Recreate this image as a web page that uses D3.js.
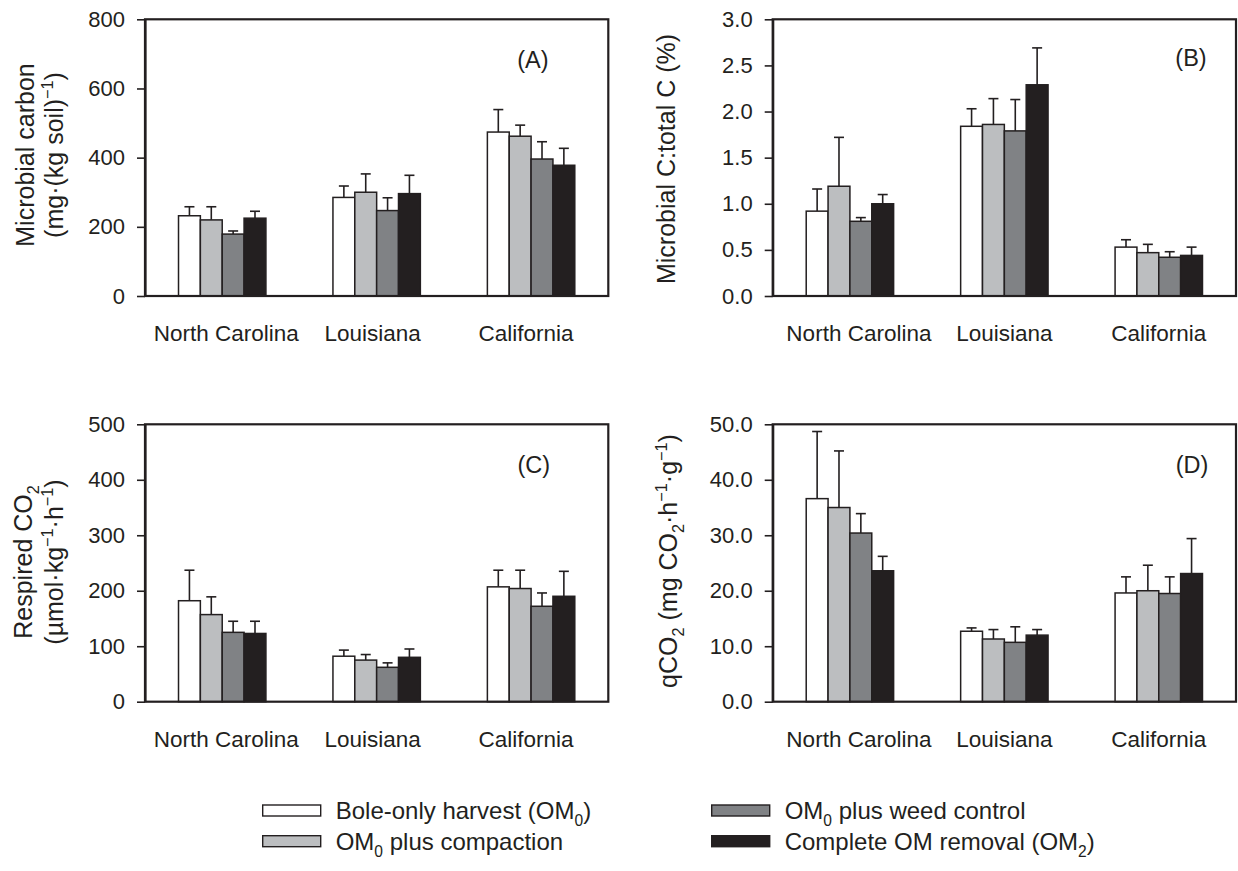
<!DOCTYPE html>
<html><head><meta charset="utf-8">
<script src="https://cdn.jsdelivr.net/npm/d3@7"></script>
<style>
body{margin:0;background:#fff}
svg text{font-family:"Liberation Sans",Arial,Helvetica,sans-serif;fill:#231f20}
</style>
</head><body>
<svg id="chart" width="1238" height="871"></svg>
<script>
// ---------------- data ----------------
const categories = ["North Carolina", "Louisiana", "California"];
const treatments = ["Bole-only harvest (OM0)", "OM0 plus compaction", "OM0 plus weed control", "Complete OM removal (OM2)"];
const treatmentColors = ["#ffffff", "#bcbec0", "#808285", "#231f20"];

// (A) Microbial carbon, mg/(kg soil): rows = sites, cols = treatments
const carbonMean = [[232, 220, 179, 225], [285, 300, 247, 296], [474, 462, 396, 378]];
const carbonSE   = [[26, 38, 9, 20], [33, 53, 37, 53], [65, 32, 50, 49]];
const carbonTicks = [0, 200, 400, 600, 800];

// (B) Microbial C : total C (%)
const ratioMean = [[0.92, 1.19, 0.81, 1.00], [1.84, 1.86, 1.79, 2.29], [0.53, 0.47, 0.42, 0.44]];
const ratioSE   = [[0.24, 0.53, 0.04, 0.10], [0.19, 0.28, 0.34, 0.40], [0.08, 0.09, 0.06, 0.09]];
const ratioTicks = [0, 0.5, 1.0, 1.5, 2.0, 2.5, 3.0];

// (C) Respired CO2, umol/kg/h
const respMean = [[182, 157, 125, 123], [82, 75, 62, 80], [207, 204, 172, 190]];
const respSE   = [[55, 32, 20, 22], [11, 10, 8, 15], [30, 33, 24, 45]];
const respTicks = [0, 100, 200, 300, 400, 500];

// (D) qCO2, mg CO2/h/g
const qco2Mean = [[36.6, 35.0, 30.4, 23.6], [12.7, 11.3, 10.7, 12.0], [19.6, 20.0, 19.5, 23.1]];
const qco2SE   = [[12.1, 10.2, 3.5, 2.6], [0.6, 1.7, 2.8, 1.0], [2.9, 4.6, 3.0, 6.3]];
const qco2Ticks = [0, 10, 20, 30, 40, 50];

// ---------------- drawing ----------------
const INK = "#231f20";
const svg = d3.select("#chart");

function richText(textSel, parts, fs) {
  let cur = 0;
  parts.forEach(p => {
    const shift = p.sub ? 0.28 * fs : (p.sup ? -0.42 * fs : 0);
    textSel.append("tspan")
      .attr("dy", shift - cur)
      .attr("font-size", (p.sub || p.sup) ? fs * 0.65 : fs)
      .text(p.t);
    cur = shift;
  });
}

function drawPanel(cfg) {
  const w = cfg.right - cfg.left, h = cfg.bottom - cfg.top;
  const g = svg.append("g").attr("transform", `translate(${cfg.left},${cfg.top})`);
  const x0 = d3.scaleBand().domain(categories).range([0, w]).paddingInner(0.434).paddingOuter(0.217);
  const x1 = d3.scaleBand().domain(d3.range(treatments.length)).range([0, x0.bandwidth()]);
  const y = d3.scaleLinear().domain([cfg.ticks[0], cfg.ticks[cfg.ticks.length - 1]]).range([h, 0]);

  const rows = [];
  categories.forEach((c, i) => treatments.forEach((t, j) => rows.push({c, j, v: cfg.mean[i][j], se: cfg.se[i][j]})));

  // error bars (drawn before bars so bar tops cover stem base)
  const eb = g.append("g").attr("stroke", INK).attr("stroke-width", 1.6);
  rows.forEach(d => {
    const cx = x0(d.c) + x1(d.j) + x1.bandwidth() / 2;
    eb.append("line").attr("x1", cx).attr("x2", cx).attr("y1", y(d.v)).attr("y2", y(d.v + d.se));
    eb.append("line").attr("x1", cx - 5).attr("x2", cx + 5).attr("y1", y(d.v + d.se)).attr("y2", y(d.v + d.se));
  });

  g.append("g").selectAll("rect").data(rows).join("rect")
    .attr("x", d => x0(d.c) + x1(d.j))
    .attr("width", x1.bandwidth())
    .attr("y", d => y(d.v))
    .attr("height", d => h - y(d.v))
    .attr("fill", d => treatmentColors[d.j])
    .attr("stroke", INK).attr("stroke-width", 1.5);

  // frame
  g.append("rect").attr("x", 0).attr("y", 0).attr("width", w).attr("height", h)
    .attr("fill", "none").attr("stroke", INK).attr("stroke-width", 2.2);

  // y axis
  const ax = g.append("g").call(d3.axisLeft(y).tickValues(cfg.ticks).tickFormat(cfg.fmt)
      .tickSize(8).tickSizeOuter(0).tickPadding(12));
  ax.select(".domain").attr("stroke", INK).attr("stroke-width", 2.2);
  ax.selectAll(".tick line").attr("stroke", INK).attr("stroke-width", 1.6);
  ax.selectAll(".tick text").attr("font-size", 22).attr("fill", INK)
    .attr("font-family", '"Liberation Sans",Arial,sans-serif');

  // category labels
  g.append("g").selectAll("text").data(categories).join("text")
    .attr("x", (d, i) => x0(d) + x0.bandwidth() / 2 + cfg.labelDx[i])
    .attr("y", h + 45.5)
    .attr("text-anchor", "middle")
    .attr("font-size", 22.5)
    .text(d => d);

  // panel letter
  g.append("text").attr("x", w - cfg.letterDx).attr("y", cfg.letterY)
    .attr("text-anchor", "middle").attr("dominant-baseline", "central")
    .attr("font-size", 23.5).text(cfg.letter);

  // y title
  cfg.title.forEach((line, k) => {
    const t = svg.append("text")
      .attr("transform", `translate(${cfg.titleX[k]},${cfg.titleY}) rotate(-90)`)
      .attr("text-anchor", "middle");
    richText(t, line, 25);
  });
}

const fmtInt = d3.format("d");
const fmt1 = d3.format(".1f");

drawPanel({
  left: 145, right: 608.3, top: 19.3, bottom: 296,
  mean: carbonMean, se: carbonSE, ticks: carbonTicks, fmt: fmtInt,
  labelDx: [4, -4, -5], letter: "(A)", letterDx: 75.5, letterY: 41,
  title: [[{t: "Microbial carbon"}], [{t: "(mg·(kg soil)"}, {t: "−1", sup: true}, {t: ")"}]],
  titleX: [34, 63], titleY: 155
});
drawPanel({
  left: 772.7, right: 1236, top: 19.3, bottom: 296,
  mean: ratioMean, se: ratioSE, ticks: ratioTicks, fmt: fmt1,
  labelDx: [9, 0, 0], letter: "(B)", letterDx: 45, letterY: 39,
  title: [[{t: "Microbial C:total C (%)"}]],
  titleX: [675], titleY: 159
});
drawPanel({
  left: 145, right: 608.3, top: 424.3, bottom: 701.7,
  mean: respMean, se: respSE, ticks: respTicks, fmt: fmtInt,
  labelDx: [4, -4, -5], letter: "(C)", letterDx: 74.5, letterY: 40.7,
  title: [[{t: "Respired CO"}, {t: "2", sub: true}],
          [{t: "(µmol·kg"}, {t: "−1", sup: true}, {t: "·h"}, {t: "−1", sup: true}, {t: ")"}]],
  titleX: [32, 63], titleY: 562
});
drawPanel({
  left: 772.7, right: 1236, top: 424.3, bottom: 701.7,
  mean: qco2Mean, se: qco2SE, ticks: qco2Ticks, fmt: fmt1,
  labelDx: [9, 0, 0], letter: "(D)", letterDx: 44, letterY: 41,
  title: [[{t: "qCO"}, {t: "2", sub: true}, {t: " (mg CO"}, {t: "2", sub: true}, {t: "·h"}, {t: "−1", sup: true},
           {t: "·g"}, {t: "−1", sup: true}, {t: ")"}]],
  titleX: [677], titleY: 561
});

// ---------------- legend ----------------
const legendParts = [
  [{t: "Bole-only harvest (OM"}, {t: "0", sub: true}, {t: ")"}],
  [{t: "OM"}, {t: "0", sub: true}, {t: " plus compaction"}],
  [{t: "OM"}, {t: "0", sub: true}, {t: " plus weed control"}],
  [{t: "Complete OM removal (OM"}, {t: "2", sub: true}, {t: ")"}]
];
const legendCol = [262.7, 262.7, 711.7, 711.7];
const legendRow = [805, 835.7, 805, 835.7];
const lg = svg.append("g");
treatments.forEach((t, j) => {
  lg.append("rect").attr("x", legendCol[j]).attr("y", legendRow[j]).attr("width", 58).attr("height", 11)
    .attr("fill", treatmentColors[j]).attr("stroke", INK).attr("stroke-width", 1.4);
  const tx = lg.append("text").attr("x", legendCol[j] + 73).attr("y", legendRow[j] + 14.2);
  richText(tx, legendParts[j], 24);
});
</script>
</body></html>
